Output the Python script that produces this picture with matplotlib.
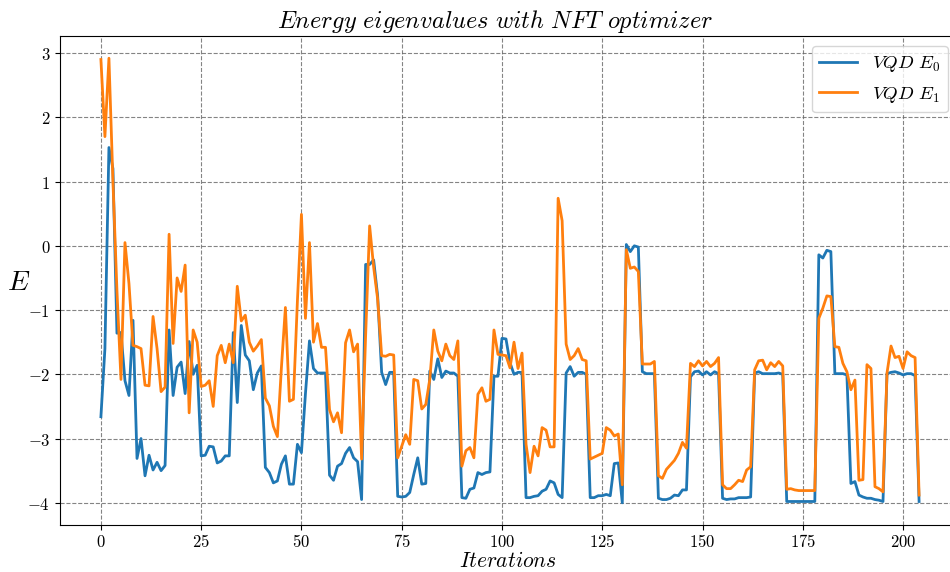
import matplotlib
matplotlib.use("Agg")
import matplotlib.pyplot as plt
import numpy as np

plt.rcParams['mathtext.fontset'] = 'cm'

iterations = list(range(205))

vqd_e0 = [
    -2.66, -1.6, 1.53, 1.2, -1.36, -1.35, -2.1, -2.33, -1.16, -3.31,
    -3.0, -3.58, -3.26, -3.49, -3.37, -3.5, -3.42, -1.31, -2.33, -1.89,
    -1.81, -2.3, -1.49, -2.0, -1.86, -3.27, -3.26, -3.12, -3.13, -3.38,
    -3.35, -3.27, -3.27, -1.35, -2.44, -1.24, -1.7, -1.79, -2.24, -1.98,
    -1.87, -3.45, -3.53, -3.69, -3.66, -3.4, -3.27, -3.71, -3.71, -3.09,
    -3.22, -2.3, -1.48, -1.91, -1.98, -1.98, -1.98, -3.57, -3.65, -3.43,
    -3.39, -3.23, -3.14, -3.3, -3.36, -3.95, -0.29, -0.29, -0.22, -0.78,
    -1.97, -2.16, -1.97, -1.97, -3.9, -3.91, -3.9, -3.84, -3.56, -3.3,
    -3.71, -3.7, -1.95, -2.08, -1.76, -2.05, -1.95, -1.98, -1.98, -2.03,
    -3.92, -3.93, -3.79, -3.77, -3.53, -3.56, -3.53, -3.52, -2.03, -2.03,
    -1.44, -1.45, -1.82, -2.0, -1.97, -1.97, -3.92, -3.92, -3.9, -3.89,
    -3.82, -3.79, -3.66, -3.69, -3.87, -3.92, -1.98, -1.88, -2.03, -1.97,
    -1.97, -2.0, -3.92, -3.92, -3.89, -3.89, -3.87, -3.89, -3.39, -3.38,
    -4.0, 0.02, -0.09, 0.0, -0.02, -1.96, -1.99, -1.99, -1.99, -3.93,
    -3.95, -3.95, -3.93, -3.88, -3.89, -3.8, -3.8, -2.04, -1.96, -1.95,
    -2.01, -1.96, -2.01, -1.96, -1.99, -3.93, -3.95, -3.94, -3.94, -3.92,
    -3.92, -3.92, -3.91, -1.98, -1.96, -1.99, -1.99, -1.99, -1.99, -1.98,
    -2.0, -3.98, -3.98, -3.98, -3.98, -3.98, -3.98, -3.98, -3.98, -0.14,
    -0.19, -0.07, -0.09, -1.99, -1.99, -1.99, -2.01, -3.7, -3.67, -3.88,
    -3.91, -3.93, -3.93, -3.95, -3.96, -3.98, -1.99, -1.97, -1.96, -1.98,
    -2.01, -1.99, -1.99, -2.02, -3.98,
]

vqd_e1 = [
    2.9, 1.7, 2.92, 1.0, -0.7, -2.08, 0.05, -0.59, -1.55, -1.57,
    -1.6, -2.17, -2.18, -1.1, -1.6, -2.27, -2.2, 0.18, -1.52, -0.5,
    -0.71, -0.3, -2.6, -1.31, -1.5, -2.19, -2.17, -2.1, -2.5, -1.71,
    -1.55, -1.82, -1.53, -1.82, -0.63, -1.17, -1.08, -1.5, -1.64, -1.56,
    -1.46, -2.37, -2.49, -2.81, -2.97, -1.9, -0.96, -2.42, -2.39, -0.85,
    0.49, -1.13, 0.05, -1.5, -1.21, -1.58, -1.58, -2.55, -2.74, -2.6,
    -2.91, -1.51, -1.31, -1.65, -1.53, -3.32, -1.4, 0.31, -0.33, -0.83,
    -1.71, -1.72, -1.69, -1.7, -3.3, -3.12, -2.94, -3.09, -2.08, -2.1,
    -2.54, -2.47, -2.08, -1.31, -1.64, -1.79, -1.53, -1.71, -1.77, -1.48,
    -3.43, -3.19, -3.14, -3.3, -2.31, -2.21, -2.42, -2.39, -1.31, -1.69,
    -1.7, -1.71, -1.9, -1.5, -1.91, -1.67, -3.09, -3.53, -3.12, -3.27,
    -2.83, -2.87, -3.13, -3.13, 0.74, 0.39, -1.53, -1.77, -1.71, -1.6,
    -1.77, -1.79, -3.32, -3.29, -3.26, -3.23, -2.83, -2.87, -2.96, -2.93,
    -3.72, -0.06, -0.35, -0.33, -0.4, -1.84, -1.84, -1.84, -1.8, -3.58,
    -3.62, -3.48, -3.41, -3.34, -3.23, -3.06, -3.15, -1.83, -1.88, -1.79,
    -1.87, -1.8, -1.88, -1.83, -1.74, -3.72, -3.78, -3.78, -3.72, -3.65,
    -3.67, -3.49, -3.44, -1.93, -1.79, -1.78, -1.93, -1.82, -1.88, -1.8,
    -1.87, -3.79, -3.78, -3.8, -3.81, -3.81, -3.81, -3.81, -3.81, -1.13,
    -0.97, -0.78, -0.79, -1.57, -1.58, -1.83, -1.96, -2.24, -2.09, -3.65,
    -3.64, -1.85, -1.91, -3.75, -3.78, -3.83, -1.98, -1.56, -1.74, -1.72,
    -1.91, -1.65, -1.71, -1.74, -3.88,
]

xtick_values = [0, 25, 50, 75, 100, 125, 150, 175, 200]
ytick_values = [-4, -3, -2, -1, 0, 1, 2, 3]

fig = plt.figure(figsize=(9.5, 5.72), dpi=100)
ax = fig.add_axes([60/950, 1-525/572, 900/950, 489/572])

ax.plot(iterations, vqd_e0, color='#1f77b4', lw=2.0, label=r'$VQD\ E_0$')
ax.plot(iterations, vqd_e1, color='#ff7f0e', lw=2.0, label=r'$VQD\ E_1$')

ax.set_xlim(-10.2, 214.2)
ax.set_ylim(-4.346, 3.266)
ax.set_xticks(xtick_values, labels=[f'${v}$' for v in xtick_values])
ax.set_yticks(ytick_values, labels=[f'${v}$' for v in ytick_values])
ax.tick_params(labelsize=12)
ax.tick_params(axis='x', pad=2.5)

ax.grid(True, linestyle='--', color='#666666', alpha=0.8, linewidth=0.8)

ax.set_title(r'$Energy\ eigenvalues\ with\ NFT\ optimizer$', fontsize=17.5, x=0.483, pad=6)
ax.set_xlabel(r'$Iterations$', fontsize=15.5)
ax.xaxis.set_label_coords(0.498, -0.054)
ax.set_ylabel(r'$E$', fontsize=20, rotation=0, va='center', ha='center')
ax.yaxis.set_label_coords(-0.046, 0.497)

ax.legend(loc='upper right', bbox_to_anchor=(948/950, 1-46/572),
          bbox_transform=fig.transFigure, borderaxespad=0, fontsize=13.5)

fig.savefig('out.png', dpi=100)
